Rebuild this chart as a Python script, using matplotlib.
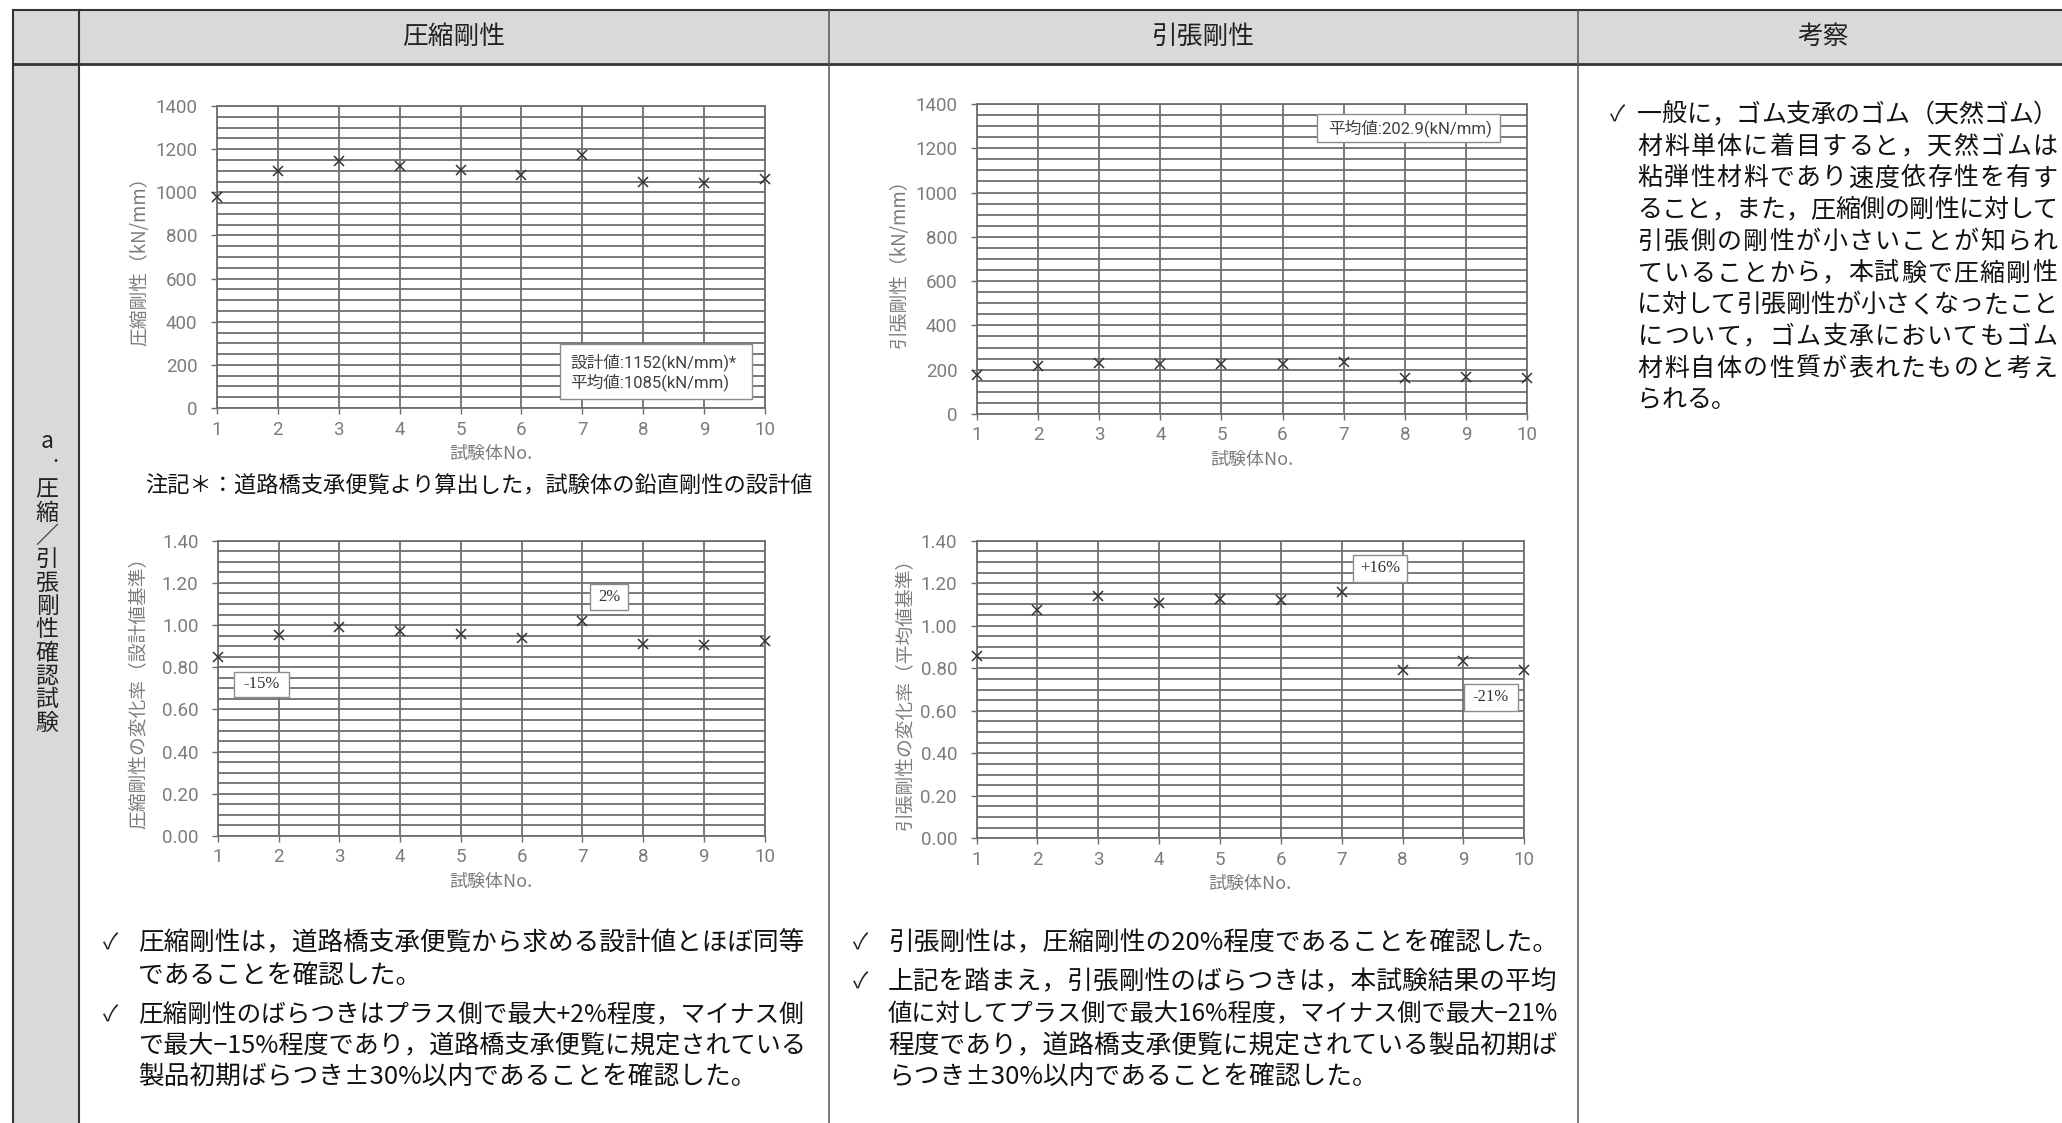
import numpy as np
import matplotlib
matplotlib.use('Agg')
import matplotlib.pyplot as plt
from matplotlib.patches import Rectangle
from matplotlib.ticker import MultipleLocator

plt.rcParams['font.family'] = ['Noto Sans CJK JP', 'DejaVu Sans']

# 試験体ごとの剛性 (kN/mm)
specimen_no = np.arange(1, 11)
comp_stiffness = np.array([980, 1100, 1143, 1120, 1105, 1081, 1174, 1047, 1041, 1063])
tens_stiffness = np.array([174, 218, 231, 225, 228, 227, 235, 161, 169, 161])
comp_design = 1152  # 道路橋支承便覧による設計値

comp_mean = comp_stiffness.mean()
tens_mean = tens_stiffness.mean()
comp_ratio = comp_stiffness / comp_design   # 設計値基準
tens_ratio = tens_stiffness / tens_mean     # 平均値基準

header_titles = ['圧縮剛性', '引張剛性', '考察']
row_title = ['a', '．', '圧', '縮', '／', '引', '張', '剛', '性', '確', '認', '試', '験']

note_text = '注記＊：道路橋支承便覧より算出した，試験体の鉛直剛性の設計値'

comp_notes = [
    ['圧縮剛性は，道路橋支承便覧から求める設計値とほぼ同等',
     'であることを確認した。'],
    ['圧縮剛性のばらつきはプラス側で最大+2%程度，マイナス側',
     'で最大−15%程度であり，道路橋支承便覧に規定されている',
     '製品初期ばらつき±30%以内であることを確認した。'],
]
tens_notes = [
    ['引張剛性は，圧縮剛性の20%程度であることを確認した。'],
    ['上記を踏まえ，引張剛性のばらつきは，本試験結果の平均',
     '値に対してプラス側で最大16%程度，マイナス側で最大−21%',
     '程度であり，道路橋支承便覧に規定されている製品初期ば',
     'らつき±30%以内であることを確認した。'],
]
remarks = [
    '一般に，ゴム支承のゴム（天然ゴム）',
    '材料単体に着目すると，天然ゴムは',
    '粘弾性材料であり速度依存性を有す',
    'ること，また，圧縮側の剛性に対して',
    '引張側の剛性が小さいことが知られ',
    'ていることから，本試験で圧縮剛性',
    'に対して引張剛性が小さくなったこと',
    'について，ゴム支承においてもゴム',
    '材料自体の性質が表れたものと考え',
    'られる。',
]

W, H = 2062, 1123
GRAY = '#7c7c7c'
GRID = '#6e6e6e'
LINE = '#333333'
FILL = '#d9d9db'

fig = plt.figure(figsize=(W / 100, H / 100), dpi=100)
bg = fig.add_axes([0, 0, 1, 1])
bg.set_xlim(0, W)
bg.set_ylim(H, 0)
bg.axis('off')
renderer = fig.canvas.get_renderer()

# 表の枠
bg.add_patch(Rectangle((13, 9.5), W - 13, 54, fc=FILL, ec='none'))
bg.add_patch(Rectangle((13, 63.5), 66, H - 63.5, fc=FILL, ec='none'))
bg.plot([13, W], [9.5, 9.5], color=LINE, lw=1.5)
bg.plot([13, W], [63.5, 63.5], color=LINE, lw=2.0)
bg.plot([13, 13], [9.5, H], color=LINE, lw=1.5)
bg.plot([79, 79], [9.5, H], color=LINE, lw=1.5)
for xc in [829, 1578]:
    bg.plot([xc, xc], [9.5, H], color='#555555', lw=1.1)

for title, xc in zip(header_titles, [454, 1203, 1823]):
    bg.text(xc, 37, title, ha='center', va='center', fontsize=18.5, color='#222222')

# 縦書きの項目名
for i, ch in enumerate(row_title):
    if ch == '．':
        bg.text(55, 462, '.', ha='center', va='baseline', fontsize=16, color='#222222')
        continue
    yc = 442 if i == 0 else 490 + (i - 2) * 23.3
    bg.text(47, yc, ch, ha='center', va='center', fontsize=16.5, color='#222222')


def chart(rect, values, ytop, major, minor, fmt, ylabel, label_x):
    x0, x1, yt, yb = rect
    ax = fig.add_axes([x0 / W, 1 - yb / H, (x1 - x0) / W, (yb - yt) / H])
    ax.plot(specimen_no, values, ls='none', marker='x', ms=7, mew=1.1,
            color='#333333', clip_on=False, zorder=5)
    ax.set_xlim(1, 10)
    ax.set_ylim(0, ytop)
    yticks = np.arange(0, ytop + major / 2, major)
    tick_font = dict(fontfamily='Roboto', fontsize=13.5, color=GRAY)
    ax.set_xticks(specimen_no, [str(n) for n in specimen_no], **tick_font)
    ax.set_yticks(yticks, [fmt.format(v) for v in yticks], **tick_font)
    ax.yaxis.set_minor_locator(MultipleLocator(minor))
    ax.grid(axis='y', which='both', color=GRID, lw=1.3)
    ax.grid(axis='x', which='major', color=GRID, lw=1.3)
    ax.set_axisbelow(True)
    ax.tick_params(which='minor', length=0)
    ax.tick_params(which='major', length=4, width=1, color=GRID)
    ax.tick_params(axis='x', pad=5)
    ax.tick_params(axis='y', pad=10)
    for s in ax.spines.values():
        s.set_color(GRID)
        s.set_linewidth(1.3)
    bg.text(label_x, (yt + yb) / 2, ylabel, rotation=90, ha='center', va='center',
            fontsize=13.5, color=GRAY)
    bg.text((x0 + x1) / 2, yb + 46, '試験体No.', ha='center', va='center',
            fontsize=13, color=GRAY)
    return ax


def box(ax, x0, x1, y0, y1):
    ax.add_patch(Rectangle((x0, y0), x1 - x0, y1 - y0, fc='white', ec='#8c8c8c',
                           lw=1.0, zorder=6, clip_on=False))


def pct_box(ax, x0, x1, y0, y1, text):
    box(ax, x0, x1, y0, y1)
    ax.text((x0 + x1) / 2, (y0 + y1) / 2, text, ha='center', va='center',
            fontsize=12, family='Liberation Serif', color='#333333', zorder=7)


box_font = dict(family=['Roboto', 'Noto Sans CJK JP'], fontsize=12, color='#404040', zorder=7)

# 圧縮剛性
ax1 = chart((217, 765, 106, 408), comp_stiffness, 1400, 200, 50, '{:.0f}',
            '圧縮剛性（kN/mm）', 140)
box(ax1, 6.63, 9.79, 42, 297)
ax1.text(6.80, 213, f'設計値:{comp_design}(kN/mm)*', ha='left', va='center', **box_font)
ax1.text(6.80, 120, f'平均値:{comp_mean:.0f}(kN/mm)', ha='left', va='center', **box_font)

# 引張剛性
ax2 = chart((977, 1527, 104, 414), tens_stiffness, 1400, 200, 50, '{:.0f}',
            '引張剛性（kN/mm）', 899)
box(ax2, 6.57, 9.56, 1230, 1356)
ax2.text(6.74, 1292, f'平均値:{tens_mean:.1f}(kN/mm)', ha='left', va='center', **box_font)

# 圧縮剛性の変化率
ax3 = chart((218, 764.5, 540.7, 836), comp_ratio, 1.4, 0.2, 0.05, '{:.2f}',
            '圧縮剛性の変化率（設計値基準）', 139)
pct_box(ax3, 1.26, 2.17, 0.659, 0.778, f'{(comp_ratio.min() - 1) * 100:.0f}%')
pct_box(ax3, 7.13, 7.75, 1.071, 1.195, f'{(comp_ratio.max() - 1) * 100:.0f}%')

# 引張剛性の変化率
ax4 = chart((976.5, 1524.3, 540.7, 838.3), tens_ratio, 1.4, 0.2, 0.05, '{:.2f}',
            '引張剛性の変化率（平均値基準）', 905)
pct_box(ax4, 7.18, 8.08, 1.206, 1.333, f'{(tens_ratio.max() - 1) * 100:+.0f}%')
pct_box(ax4, 9.01, 9.89, 0.599, 0.726, f'{(tens_ratio.min() - 1) * 100:.0f}%')

bg.text(145, 486, note_text, ha='left', va='center', fontsize=16, color='#111111')


def bullets(paragraphs, check_x, text_x, max_w, rows):
    k = 0
    for para in paragraphs:
        for j, line in enumerate(para):
            if j == 0:
                bg.text(check_x, rows[k], '✓', ha='center', va='center',
                        fontsize=16, color='#222222')
            t = bg.text(text_x, rows[k], line, ha='left', va='center',
                        fontsize=18.5, color='#111111')
            # 列幅に収まるよう長い行は縮める
            w = t.get_window_extent(renderer=renderer).width
            if w > max_w:
                t.set_fontsize(18.5 * max_w / w)
            k += 1


bullets(comp_notes, 111, 138, 668, [943, 976, 1015, 1046, 1077])
bullets(tens_notes, 861, 888, 673, [943, 982, 1014, 1046, 1077])

# 考察欄（両端揃え）
rx0, rx1 = 1637, 2058
bg.text(1618, 115, '✓', ha='center', va='center', fontsize=16, color='#222222')
for k, line in enumerate(remarks):
    yc = 115 + k * 31.7
    adv = (rx1 - rx0) / len(line) if k < len(remarks) - 1 else 24.8
    for i, ch in enumerate(line):
        bg.text(rx0 + (i + 0.5) * adv, yc, ch, ha='center', va='center',
                fontsize=18, color='#111111')

fig.savefig('out.png', dpi=100)
